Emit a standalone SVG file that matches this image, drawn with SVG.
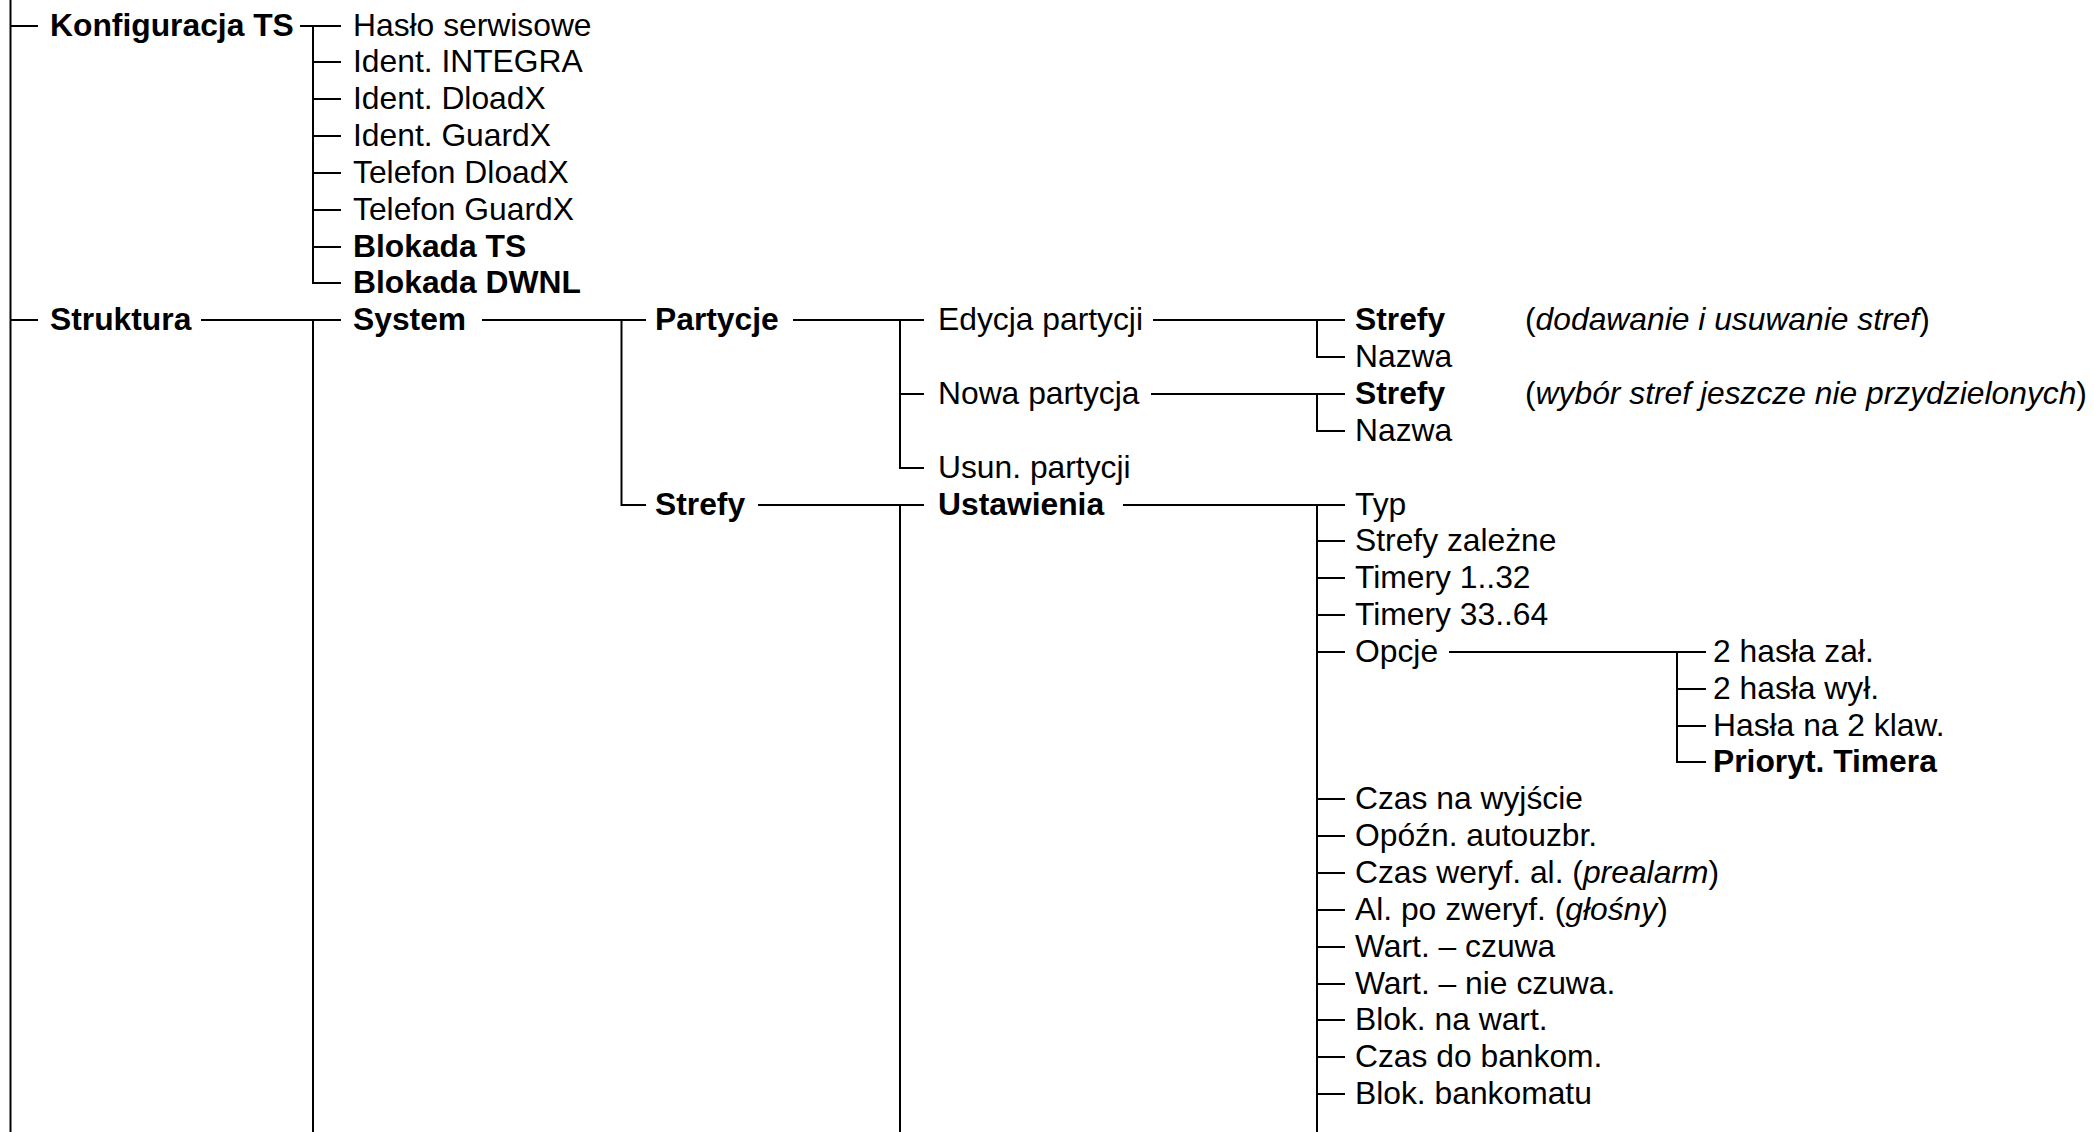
<svg xmlns="http://www.w3.org/2000/svg" width="2094" height="1132" viewBox="0 0 2094 1132">
<style>
.t{font-family:"Liberation Sans",Arial,Helvetica,sans-serif;font-size:31.8px;fill:#000}
.b{font-weight:bold}
.i{font-style:italic}
.c path{stroke:#000;stroke-width:2;fill:none}
</style>
<rect width="2094" height="1132" fill="#fff"/>
<g id="connectors" class="c">
<path d="M10.5 0V1132M10.5 26H38M10.5 320H38"/>
<path d="M300 26H341M313 26V283H341M313 62H341M313 99H341M313 136H341M313 173H341M313 210H341M313 247H341"/>
<path d="M201 320H341M313 320V1132"/>
<path d="M482 320H646M621.5 320V505H646"/>
<path d="M793 320H924M900 320V468H924M900 394H924"/>
<path d="M1153 320H1345M1317 320V357H1345"/>
<path d="M1151 394H1345M1317 394V431H1345"/>
<path d="M758 505H924M900 505V1132"/>
<path d="M1123 505H1345M1317 505V1132M1317 541H1345M1317 578H1345M1317 615H1345M1317 652H1345M1317 799H1345M1317 836H1345M1317 873H1345M1317 910H1345M1317 947H1345M1317 984H1345M1317 1020H1345M1317 1057H1345M1317 1094H1345"/>
<path d="M1449 652H1706M1677 652V762H1706M1677 689H1706M1677 726H1706"/>
</g>
<g id="n-konfiguracja"><text class="t b" x="50" y="36">Konfiguracja TS</text></g>
<g id="n-haslo"><text class="t" x="353" y="36">Hasło serwisowe</text></g>
<g id="n-ident-integra"><text class="t" x="353" y="72">Ident. INTEGRA</text></g>
<g id="n-ident-dloadx"><text class="t" x="353" y="109">Ident. DloadX</text></g>
<g id="n-ident-guardx"><text class="t" x="353" y="146">Ident. GuardX</text></g>
<g id="n-tel-dloadx"><text class="t" x="353" y="183">Telefon DloadX</text></g>
<g id="n-tel-guardx"><text class="t" x="353" y="220">Telefon GuardX</text></g>
<g id="n-blokada-ts"><text class="t b" x="353" y="257">Blokada TS</text></g>
<g id="n-blokada-dwnl"><text class="t b" x="353" y="293">Blokada DWNL</text></g>
<g id="n-struktura"><text class="t b" x="50" y="330">Struktura</text></g>
<g id="n-system"><text class="t b" x="353" y="330">System</text></g>
<g id="n-partycje"><text class="t b" x="655" y="330">Partycje</text></g>
<g id="n-edycja"><text class="t" x="938" y="330">Edycja partycji</text></g>
<g id="n-edycja-strefy"><text class="t b" x="1355" y="330">Strefy</text><text class="t" x="1525" y="330">(<tspan class="i">dodawanie i usuwanie stref</tspan>)</text></g>
<g id="n-edycja-nazwa"><text class="t" x="1355" y="367">Nazwa</text></g>
<g id="n-nowa"><text class="t" x="938" y="404">Nowa partycja</text></g>
<g id="n-nowa-strefy"><text class="t b" x="1355" y="404">Strefy</text><text class="t" x="1525" y="404">(<tspan class="i">wybór stref jeszcze nie przydzielonych</tspan>)</text></g>
<g id="n-nowa-nazwa"><text class="t" x="1355" y="441">Nazwa</text></g>
<g id="n-usun"><text class="t" x="938" y="478">Usun. partycji</text></g>
<g id="n-strefy"><text class="t b" x="655" y="515">Strefy</text></g>
<g id="n-ustawienia"><text class="t b" x="938" y="515">Ustawienia</text></g>
<g id="n-typ"><text class="t" x="1355" y="515">Typ</text></g>
<g id="n-strefy-zal"><text class="t" x="1355" y="551">Strefy zależne</text></g>
<g id="n-timery1"><text class="t" x="1355" y="588">Timery 1..32</text></g>
<g id="n-timery33"><text class="t" x="1355" y="625">Timery 33..64</text></g>
<g id="n-opcje"><text class="t" x="1355" y="662">Opcje</text></g>
<g id="n-2hasla-zal"><text class="t" x="1713" y="662">2 hasła zał.</text></g>
<g id="n-2hasla-wyl"><text class="t" x="1713" y="699">2 hasła wył.</text></g>
<g id="n-hasla-2klaw"><text class="t" x="1713" y="736">Hasła na 2 klaw.</text></g>
<g id="n-prioryt"><text class="t b" x="1713" y="772">Prioryt. Timera</text></g>
<g id="n-czas-wyj"><text class="t" x="1355" y="809">Czas na wyjście</text></g>
<g id="n-opozn"><text class="t" x="1355" y="846">Opóźn. autouzbr.</text></g>
<g id="n-czas-weryf"><text class="t" x="1355" y="883">Czas weryf. al. (<tspan class="i">prealarm</tspan>)</text></g>
<g id="n-al-po"><text class="t" x="1355" y="920">Al. po zweryf. (<tspan class="i">głośny</tspan>)</text></g>
<g id="n-wart-czuwa"><text class="t" x="1355" y="957">Wart. – czuwa</text></g>
<g id="n-wart-nie"><text class="t" x="1355" y="994">Wart. – nie czuwa.</text></g>
<g id="n-blok-wart"><text class="t" x="1355" y="1030">Blok. na wart.</text></g>
<g id="n-czas-bank"><text class="t" x="1355" y="1067">Czas do bankom.</text></g>
<g id="n-blok-bank"><text class="t" x="1355" y="1104">Blok. bankomatu</text></g>
</svg>
